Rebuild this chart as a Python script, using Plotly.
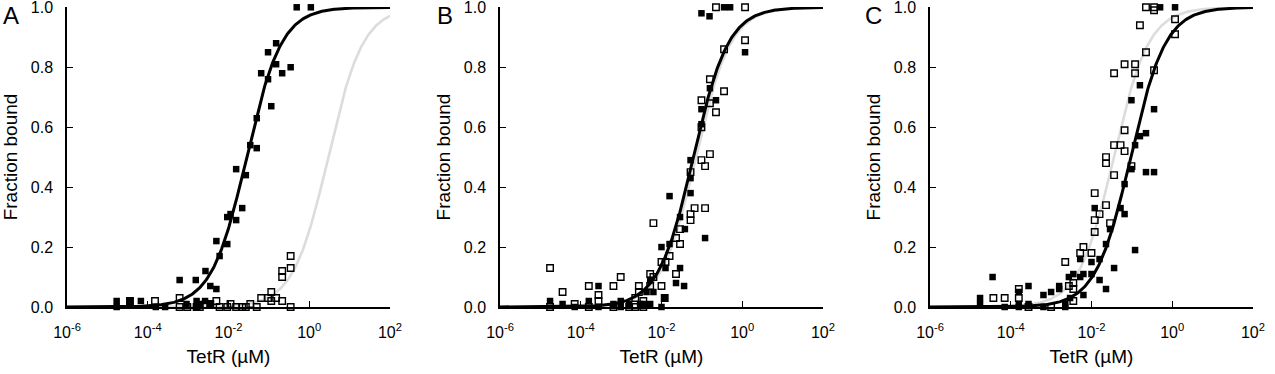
import numpy as np
import plotly.graph_objects as go

# ---------------- data (x values as log10 of TetR concentration in µM) ----------------
a_filled_logx = [-0.31, 0.04, -0.82, -1.02, -0.82, -1.19, -0.67, -0.46, -1.02, -0.94, -1.30, -1.46, -1.30,
                 -1.81, -1.57, -1.66, -1.95, -2.03, -1.81, -2.03, -2.30, -2.22, -3.21, -2.81, -2.57, -2.45,
                 -2.30, -4.77, -4.77, -4.44, -4.17, -3.80, -3.57, -3.04, -2.79, -2.79, -2.71, -2.58, -2.46]
a_filled_y = [1.0, 1.0, 0.88, 0.85, 0.81, 0.78, 0.78, 0.80, 0.76, 0.67, 0.63, 0.54, 0.53,
              0.46, 0.44, 0.33, 0.31, 0.30, 0.29, 0.21, 0.22, 0.17, 0.09, 0.09, 0.12, 0.07,
              0.06, 0.02, 0.0, 0.02, 0.02, 0.0, 0.0, 0.01, 0.02, 0.0, 0.01, 0.02, 0.01]
a_open_logx = [-4.44, -3.82, -3.21, -3.21, -3.02, -2.79, -2.71, -2.45, -2.30, -2.22, -2.03, -1.95, -1.81,
               -1.66, -1.57, -1.46, -1.30, -1.19, -1.02, -0.94, -0.94, -0.82, -0.67, -0.67, -0.67,
               -0.46, -0.46, -0.46]
a_open_y = [0.02, 0.02, 0.03, 0.0, 0.0, 0.0, 0.0, 0.01, 0.02, 0.0, 0.0, 0.01, 0.0,
            0.0, 0.0, 0.01, 0.0, 0.03, 0.03, 0.05, 0.02, 0.03, 0.02, 0.12, 0.10,
            0.13, 0.17, 0.0]

b_filled_logx = [-1.01, -0.81, -0.45, -0.30, 0.07, -0.80, -0.65, -1.01, -1.01, -1.28, -1.28, -1.28,
                 -1.80, -1.54, -1.42, -0.92, -2.00, -1.80, -1.90, -1.54, -1.64, -1.44, -2.28, -2.20,
                 -2.37, -1.92, -2.00, -3.56, -4.76, -4.45, -4.15, -3.80, -3.56, -3.19, -3.01, -3.01,
                 -2.80, -2.53, -2.45, -2.28]
b_filled_y = [0.98, 0.97, 1.0, 1.0, 0.85, 0.73, 0.69, 0.66, 0.61, 0.49, 0.43, 0.38,
              0.37, 0.30, 0.26, 0.23, 0.20, 0.21, 0.13, 0.13, 0.08, 0.07, 0.09, 0.05,
              0.05, 0.03, 0.0, 0.07, 0.02, 0.01, 0.0, 0.02, 0.0, 0.01, 0.02, 0.0,
              0.01, 0.01, 0.01, 0.01]
b_open_logx = [-0.65, 0.07, 0.07, -0.45, -0.80, -0.45, -1.01, -0.80, -0.65, -1.01, -0.80, -1.01,
               -1.28, -0.92, -1.18, -0.92, -1.28, -1.28, -1.54, -1.64, -1.54, -1.80, -1.90, -2.00,
               -2.20, -2.28, -2.20, -2.00, -1.64, -2.28, -2.56, -2.56, -2.65, -1.92, -2.45, -4.76,
               -4.45, -3.80, -3.56, -3.56, -3.19, -3.01, -4.76, -4.15, -3.80, -3.19, -2.80, -2.65,
               -2.45]
b_open_y = [1.0, 1.0, 0.89, 0.86, 0.76, 0.72, 0.69, 0.68, 0.65, 0.60, 0.51, 0.49,
            0.45, 0.47, 0.33, 0.33, 0.31, 0.29, 0.26, 0.23, 0.21, 0.17, 0.15, 0.15,
            0.28, 0.11, 0.10, 0.07, 0.11, 0.07, 0.07, 0.05, 0.03, 0.03, 0.02, 0.13,
            0.05, 0.07, 0.04, 0.02, 0.07, 0.10, 0.0, 0.01, 0.0, 0.0, 0.0, 0.0,
            0.0]

c_filled_logx = [-0.30, 0.07, -0.80, -1.01, -0.45, -0.65, -0.80, -0.92, -1.01, -0.65, -0.45, -1.18,
                 -1.28, -1.18, -0.92, -1.92, -1.54, -1.64, -1.80, -2.00, -1.44, -2.28, -1.80, -1.64,
                 -2.20, -2.00, -2.28, -2.45, -2.56, -2.80, -2.80, -2.20, -2.53, -3.00, -3.19, -3.56,
                 -4.45, -4.76, -4.76, -3.80, -3.80, -3.56, -4.15, -3.80, -3.19, -2.65, -2.65]
c_filled_y = [1.0, 1.0, 0.74, 0.69, 0.66, 0.58, 0.57, 0.54, 0.46, 0.45, 0.45, 0.41,
              0.33, 0.31, 0.19, 0.33, 0.26, 0.21, 0.16, 0.15, 0.13, 0.16, 0.09, 0.06,
              0.11, 0.11, 0.10, 0.11, 0.10, 0.07, 0.06, 0.04, 0.03, 0.05, 0.04, 0.07,
              0.10, 0.03, 0.01, 0.05, 0.01, 0.01, 0.0, 0.0, 0.0, 0.0, 0.01]
c_open_logx = [-0.65, -0.45, -0.45, -0.80, 0.07, 0.07, -0.65, -1.18, -0.92, -1.44, -0.92, -0.45,
               -1.18, -1.44, -1.28, -1.18, -1.64, -1.64, -1.44, -1.01, -1.92, -1.64, -1.80, -1.92,
               -1.92, -1.54, -2.20, -2.28, -2.00, -2.65, -2.45, -2.56, -2.45, -2.45, -4.43, -4.15,
               -3.80, -3.80, -3.56, -3.00]
c_open_y = [1.0, 1.0, 0.99, 0.94, 0.96, 0.91, 0.85, 0.81, 0.81, 0.78, 0.78, 0.79,
            0.59, 0.54, 0.54, 0.52, 0.50, 0.48, 0.44, 0.47, 0.38, 0.34, 0.31, 0.29,
            0.25, 0.28, 0.20, 0.18, 0.18, 0.15, 0.08, 0.07, 0.06, 0.02, 0.03, 0.03,
            0.06, 0.03, 0.0, 0.0]

# fitted dissociation constants (log10 µM) for the Hill (n = 1) curves
fit_black_logkd = [-1.55, -1.21, -1.03]
fit_grey_logkd = [0.47, -1.15, -1.45]

panel_letters = ["A", "B", "C"]
x_tickvals = [1e-6, 1e-4, 1e-2, 1e0, 1e2]
x_ticktext = ["10<sup>-6</sup>", "10<sup>-4</sup>", "10<sup>-2</sup>", "10<sup>0</sup>", "10<sup>2</sup>"]
y_tickvals = [0.0, 0.2, 0.4, 0.6, 0.8, 1.0]
x_title = "TetR (µM)"
y_title = "Fraction bound"

# ---------------- figure ----------------
W, H = 1275, 374
FONT = "Liberation Sans, Arial, Helvetica, sans-serif"
axis_left_px = [67, 500, 930]
axis_w_px = 323
y_bottom_px, y_top_px = 307, 7

fig = go.Figure()
panels = [
    (a_filled_logx, a_filled_y, a_open_logx, a_open_y),
    (b_filled_logx, b_filled_y, b_open_logx, b_open_y),
    (c_filled_logx, c_filled_y, c_open_logx, c_open_y),
]
curve_logx = np.linspace(-6, 2, 400)
curve_x = 10 ** curve_logx

for i, (fx, fy, ox, oy) in enumerate(panels):
    xa = "x" if i == 0 else f"x{i+1}"
    ya = "y" if i == 0 else f"y{i+1}"
    kd_g = 10 ** fit_grey_logkd[i]
    kd_b = 10 ** fit_black_logkd[i]
    fig.add_trace(go.Scatter(x=curve_x, y=curve_x / (curve_x + kd_g), mode="lines",
                             line=dict(color="#dcdcdc", width=2.6), xaxis=xa, yaxis=ya,
                             showlegend=False, hoverinfo="skip"))
    fig.add_trace(go.Scatter(x=curve_x, y=curve_x / (curve_x + kd_b), mode="lines",
                             line=dict(color="black", width=3), xaxis=xa, yaxis=ya,
                             showlegend=False, hoverinfo="skip"))
    fig.add_trace(go.Scatter(x=10 ** np.array(ox), y=oy, mode="markers",
                             marker=dict(symbol="square-open", size=6.5, color="black",
                                         line=dict(width=1.4, color="black")),
                             xaxis=xa, yaxis=ya, showlegend=False, cliponaxis=False))
    fig.add_trace(go.Scatter(x=10 ** np.array(fx), y=fy, mode="markers",
                             marker=dict(symbol="square", size=6.5, color="black",
                                         line=dict(width=0)),
                             xaxis=xa, yaxis=ya, showlegend=False, cliponaxis=False))

layout = dict(width=W, height=H, margin=dict(l=0, r=0, t=0, b=0, autoexpand=False),
              paper_bgcolor="white", plot_bgcolor="white",
              font=dict(family=FONT, size=16, color="black"))
for i in range(3):
    sx = "" if i == 0 else str(i + 1)
    x0 = axis_left_px[i] / W
    x1 = (axis_left_px[i] + axis_w_px) / W
    layout[f"xaxis{sx}"] = dict(
        type="log", range=[-6, 2.001], domain=[x0, x1], anchor=f"y{sx}", automargin=False,
        tickvals=x_tickvals, ticktext=x_ticktext, ticks="inside", ticklen=6,
        tickwidth=1.3, tickcolor="black", showline=True, linecolor="black", linewidth=1.5,
        showgrid=False, zeroline=False, tickfont=dict(size=16), ticklabelstandoff=10,
        ticklabeloverflow="allow",
        title=dict(text=x_title, font=dict(size=19), standoff=10))
    layout[f"yaxis{sx}"] = dict(
        range=[0, 1.001], domain=[(H - y_bottom_px) / H, (H - y_top_px) / H], anchor=f"x{sx}",
        automargin=False,
        tickvals=y_tickvals, tickformat=".1f", ticks="inside", ticklen=6, tickwidth=1.3,
        tickcolor="black", showline=True, linecolor="black", linewidth=1.5,
        showgrid=False, zeroline=False, tickfont=dict(size=16), ticklabelstandoff=9,
        ticklabeloverflow="allow",
        title=dict(text=y_title, font=dict(size=19), standoff=8))
fig.update_layout(**layout)

letter_x_px = [11, 445, 873]
for i, letter in enumerate(panel_letters):
    fig.add_annotation(text=letter, x=letter_x_px[i] / W, y=(H - 15) / H, xref="paper", yref="paper",
                       showarrow=False, font=dict(size=24, color="black", family=FONT),
                       xanchor="center", yanchor="middle")

fig.write_html("out.html", config={"displayModeBar": False},
               post_script="document.body.style.margin='0';document.body.style.overflow='hidden';")
